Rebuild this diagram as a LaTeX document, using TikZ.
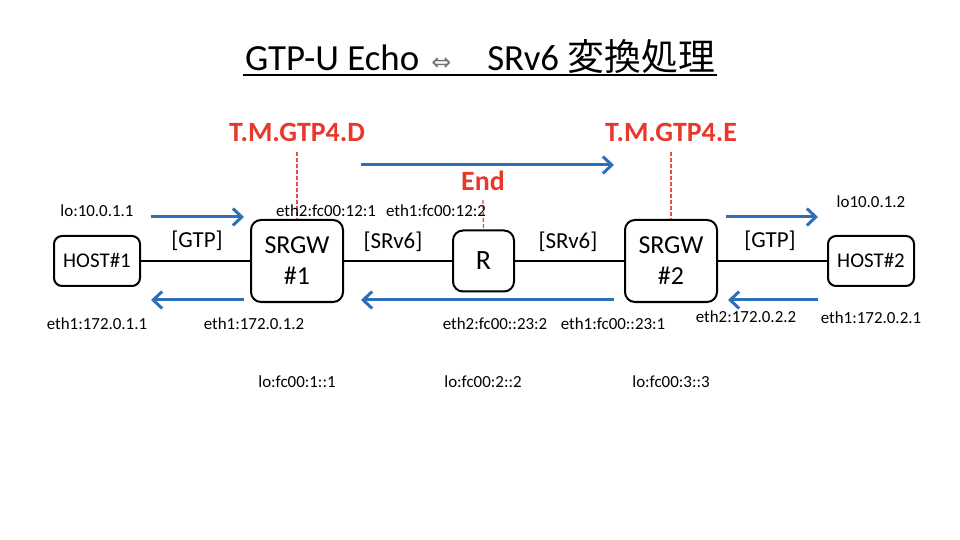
\documentclass[tikz,border=0pt]{standalone}
\usepackage{fontspec}
\setmainfont{Carlito}
\newfontfamily\cjk{Noto Sans CJK JP}
\newfontfamily\symfont{DejaVu Sans}
\usetikzlibrary{arrows.meta}
\definecolor{flowblue}{RGB}{46,112,184}
\definecolor{fnred}{RGB}{232,56,42}
\begin{document}
\begin{tikzpicture}[x=1bp,y=-1bp,line join=round,
	box/.style={draw,line width=2bp,rounded corners=10bp,align=center,inner sep=0pt,font=\fontsize{26}{31}\selectfont},
	link/.style={line width=2bp},
	flow/.style={draw=flowblue,line width=3bp,-{Straight Barb[length=9bp,width=17bp,line width=3bp]}},
	fn/.style={text=fnred,font=\fontsize{28}{32}\selectfont\bfseries},
	fnline/.style={draw=fnred!90!white,line width=1.3bp,dash pattern=on 4bp off 2bp},
	addr/.style={font=\fontsize{17}{19}\selectfont,inner sep=0pt},
	proto/.style={font=\fontsize{23}{26}\selectfont,inner sep=0pt}]
	\useasboundingbox (0,0) rectangle (960,540);
	% title
	\node[font=\fontsize{37}{42}\selectfont,inner sep=0pt] (title) at (480,57) {GTP-U Echo\hspace{12bp}{\symfont\fontsize{24}{26}\selectfont\color{black!55}⇔}\hspace{36bp}SRv6 {\cjk 変換処理}};
	\draw[line width=2.5bp] (243,75)--(717,75);
	% nodes
	\node[box,minimum width=86bp,minimum height=50bp,rounded corners=8bp,font=\fontsize{21}{24}\selectfont] (host1) at (97,261) {HOST\#1};
	\node[box,minimum width=92bp,minimum height=82bp] (srgw1) at (297,261) {SRGW\\\#1};
	\node[box,minimum width=61bp,minimum height=61bp,font=\fontsize{28}{30}\selectfont] (r) at (483.5,261) {R};
	\node[box,minimum width=92bp,minimum height=82bp] (srgw2) at (671,261) {SRGW\\\#2};
	\node[box,minimum width=86bp,minimum height=50bp,rounded corners=8bp,font=\fontsize{21}{24}\selectfont] (host2) at (871,261) {HOST\#2};
	\draw[link] (host1) -- (srgw1);
	\draw[link] (srgw1) -- (r);
	\draw[link] (r) -- (srgw2);
	\draw[link] (srgw2) -- (host2);
	\node[proto] (p1) at (197,241) {[GTP]};
	\node[proto] (p2) at (393,242) {[SRv6]};
	\node[proto] (p3) at (568,242) {[SRv6]};
	\node[proto] (p4) at (770,241) {[GTP]};
	% functions
	\node[fn] (tmd) at (297,132) {T.M.GTP4.D};
	\node[fn] (tme) at (671,132) {T.M.GTP4.E};
	\node[fn] (end) at (483,181) {End};
	\draw[fnline] (297,152) -- (srgw1.north);
	\draw[fnline] (671,152) -- (srgw2.north);
	\draw[fnline] (483,200) -- (r.north);
	% flows
	\coordinate (a1) at (151,217); \coordinate (a2) at (244,217);
	\coordinate (b1) at (244,300); \coordinate (b2) at (151,300);
	\coordinate (c1) at (361,165); \coordinate (c2) at (614,165);
	\coordinate (d1) at (614,300); \coordinate (d2) at (361,300);
	\coordinate (e1) at (726,217); \coordinate (e2) at (818,217);
	\coordinate (f1) at (818,300); \coordinate (f2) at (728,300);
	\draw[flow] (a1) -- (a2);
	\draw[flow] (b1) -- (b2);
	\draw[flow] (c1) -- (c2);
	\draw[flow] (d1) -- (d2);
	\draw[flow] (e1) -- (e2);
	\draw[flow] (f1) -- (f2);
	% addresses
	\node[addr] (lo1) at (97,211) {lo:10.0.1.1};
	\node[addr] (s1e2) at (326,211) {eth2:fc00:12:1};
	\node[addr] (re1) at (436,211) {eth1:fc00:12:2};
	\node[addr] (lo2) at (871,202) {lo10.0.1.2};
	\node[addr] (h1e1) at (97,324) {eth1:172.0.1.1};
	\node[addr] (s1e1) at (254,324) {eth1:172.0.1.2};
	\node[addr] (re2) at (495,324) {eth2:fc00::23:2};
	\node[addr] (s2e1) at (613,324) {eth1:fc00::23:1};
	\node[addr] (s2e2) at (746,317) {eth2:172.0.2.2};
	\node[addr] (h2e1) at (871,318) {eth1:172.0.2.1};
	\node[addr] (los1) at (297,382) {lo:fc00:1::1};
	\node[addr] (lor) at (483,382) {lo:fc00:2::2};
	\node[addr] (los2) at (671,382) {lo:fc00:3::3};
\end{tikzpicture}
\end{document}
